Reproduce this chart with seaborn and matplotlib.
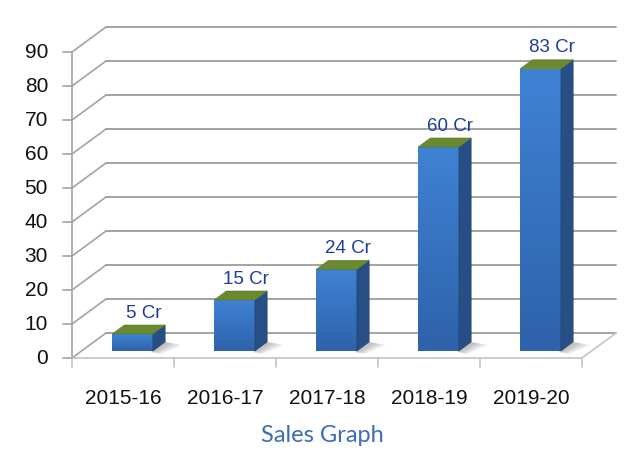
import numpy as np
import pandas as pd
import matplotlib
matplotlib.use("Agg")
import matplotlib.pyplot as plt
from matplotlib.patches import Polygon
import seaborn as sns

# ---- data ----
categories = ["2015-16", "2016-17", "2017-18", "2018-19", "2019-20"]
values = [5, 15, 24, 60, 83]
labels = ["5 Cr", "15 Cr", "24 Cr", "60 Cr", "83 Cr"]
yticks = [0, 10, 20, 30, 40, 50, 60, 70, 80, 90]
title = "Sales Graph"

df = pd.DataFrame({"year": categories, "sales": values})

sns.set_theme(style="white")
plt.rcParams["font.family"] = ["Liberation Sans", "DejaVu Sans"]

fig = plt.figure(figsize=(6.43, 4.61), dpi=100)
ax = fig.add_axes([0, 0, 1, 1])

# geometry of the pseudo-3D box (data units: x = category, y = value)
PX_X, PX_Y = 102.0, 3.4
D = np.array([34 / PX_X, 25 / PX_Y])       # full depth vector
fb = 0.28                                   # depth of bar front plane
F = -fb * D                                 # offset of front edge
B = (1 - fb) * D                            # offset of back wall
BD = 0.36 * D                               # bar depth
n = len(categories)

grid_c = "#a3a3a3"
floor_c = "#c4c4c4"

# left wall diagonals + back wall gridlines
for v in yticks:
    ax.plot([-0.5 + F[0], -0.5 + B[0]], [v + F[1], v + B[1]], color=grid_c, lw=1.2, zorder=1)
    ax.plot([-0.5 + B[0], n - 0.5 + B[0]], [v + B[1], v + B[1]], color=grid_c, lw=1.4, zorder=1)
    ax.plot([-0.5 + F[0] - 9 / PX_X, -0.5 + F[0]], [v + F[1], v + F[1]], color=grid_c, lw=1.2, zorder=1)
    ax.text(-0.5 + F[0] - 24 / PX_X, v + F[1], str(v), ha="right", va="center",
            fontsize=15, color="#111111")

# floor
ax.plot([-0.5 + F[0], n - 0.5 + F[0]], [F[1], F[1]], color=floor_c, lw=1.2, zorder=1)
ax.plot([n - 0.5 + F[0], n - 0.5 + B[0]], [F[1], B[1]], color=floor_c, lw=1.2, zorder=1)
# front vertical axis
ax.plot([-0.5 + F[0], -0.5 + F[0]], [F[1], 90 + F[1]], color=grid_c, lw=1.2, zorder=1)
# category boundary ticks
for k in range(n + 1):
    ax.plot([k - 0.5 + F[0]] * 2, [F[1], F[1] - 9 / PX_Y], color=floor_c, lw=1.2, zorder=1)

# bars (front faces) via seaborn
sns.barplot(data=df, x="year", y="sales", width=0.4, color="#3a78c8",
            saturation=1, ax=ax, zorder=3, linewidth=0)

front_top = np.array([0x3f, 0x82, 0xd4]) / 255
front_bot = np.array([0x2e, 0x62, 0xaa]) / 255
grad = np.linspace(0, 1, 64)[:, None, None]
grad_img = front_top * (1 - grad) + front_bot * grad

for i, patch in enumerate(ax.patches[:n]):
    x0 = patch.get_x()
    w = patch.get_width()
    h = patch.get_height()
    x1 = x0 + w
    # gradient on front face
    im = ax.imshow(grad_img, extent=[x0, x1, 0, h], aspect="auto", zorder=3.1,
                   origin="upper", interpolation="bilinear")
    im.set_clip_path(patch)
    # soft shadow on floor (layered to fake a blur)
    for s in np.linspace(1.0, 0.3, 6):
        sh = Polygon([[x1 - 0.02, -0.4 * s], [x1 + BD[0], BD[1]],
                      [x1 + BD[0] + 0.17 * s, BD[1] * (1 - 0.35 * s)],
                      [x1 + 0.08 * s, -0.9 * s]],
                     closed=True, facecolor="#7a7a7a", alpha=0.09,
                     edgecolor="none", zorder=2)
        ax.add_patch(sh)
    # side face
    side = Polygon([[x1, 0], [x1 + BD[0], BD[1]], [x1 + BD[0], h + BD[1]], [x1, h]],
                   closed=True, facecolor="#284f85", edgecolor="#203f6a", lw=0.4, zorder=3.2)
    ax.add_patch(side)
    # top face
    top = Polygon([[x0, h], [x1, h], [x1 + BD[0], h + BD[1]], [x0 + BD[0], h + BD[1]]],
                  closed=True, facecolor="#6b8a2f", edgecolor="#58742a", lw=0.4, zorder=3.3)
    ax.add_patch(top)
    # value label
    ax.text(x0 + w / 2 + 11 / PX_X, h + 21 / PX_Y, labels[i], ha="center", va="center",
            fontsize=13.5, color="#1c3d9e", zorder=5)

# category labels
for i, c in enumerate(categories):
    ax.text(i + F[0], F[1] - 40 / PX_Y, c, ha="center", va="center", fontsize=15,
            color="#111111")

# title
ax.text(-0.5 + F[0] + 250 / PX_X, F[1] - 77 / PX_Y, title, ha="center", va="center",
        fontsize=17, color="#3d6db5", family=["Lato", "DejaVu Sans"])

# map data to the figure pixels
x_left = -0.5 + F[0] - 72 / PX_X
x_right = x_left + 643 / PX_X
y_top = F[1] + 358 / PX_Y
y_bot = y_top - 461 / PX_Y
ax.set_xlim(x_left, x_right)
ax.set_ylim(y_bot, y_top)
ax.axis("off")

fig.savefig("out.png", dpi=100, facecolor="white")
